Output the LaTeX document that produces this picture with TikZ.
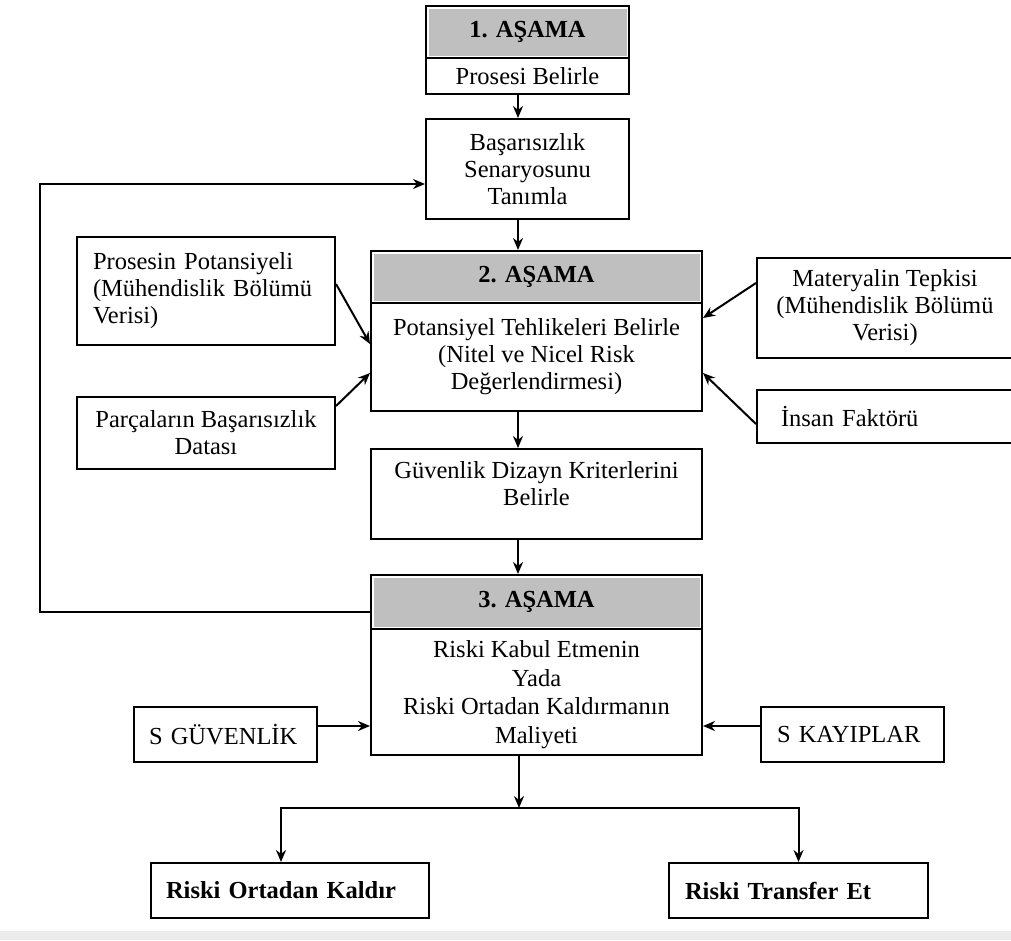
\documentclass[tikz,border=0pt]{standalone}
\usepackage{fontspec}
\setmainfont{Liberation Serif}
\usetikzlibrary{arrows.meta,positioning}
\definecolor{hdrgray}{RGB}{191,191,191}
\definecolor{rulegray}{RGB}{236,236,236}
\tikzset{box/.style={draw,line width=2pt,inner sep=0pt,anchor=north west,align=center,font=\fontsize{24.5}{27}\selectfont},
  lbox/.style={box,align=left,inner xsep=15pt},
  hdr/.style={box,font=\bfseries\fontsize{24.5}{27}\selectfont,
    path picture={\fill[hdrgray] ([shift={(2.5pt,-2.5pt)}]path picture bounding box.north west) rectangle ([shift={(-2.5pt,2.5pt)}]path picture bounding box.south east);}},
  arr/.style={line width=2pt,-{Stealth[length=12pt,width=10pt]}}}

\begin{document}
\begin{tikzpicture}[x=1pt,y=-1pt]
  \useasboundingbox (0,0) rectangle (1011,940);
  \fill[rulegray] (0,931) rectangle (1011,940);
  \coordinate (ax) at (518,0);
  % 1. asama
  \node[hdr,minimum width=203pt,minimum height=52pt] (s1h) at (425,5) {1. AŞAMA};
  \node[box,minimum width=203pt,minimum height=36pt] (s1b) at (425,57) {Prosesi Belirle};
  \node[box,minimum width=203pt,minimum height=100pt] (bsz) at (425,118) {Başarısızlık\\Senaryosunu\\Tanımla};
  % 2. asama
  \node[hdr,minimum width=331pt,minimum height=52pt] (s2h) at (370,250) {2. AŞAMA};
  \node[box,minimum width=331pt,minimum height=108pt] (s2b) at (370,302) {Potansiyel Tehlikeleri Belirle\\(Nitel ve Nicel Risk\\Değerlendirmesi)};
  \node[box,minimum width=331pt,minimum height=90pt,text depth=21pt] (gdk) at (370,448) {Güvenlik Dizayn Kriterlerini\\Belirle};
  \node[lbox,inner xsep=16pt,text width=226pt,minimum height=108pt] (ppt) at (76,236) {Prosesin Potansiyeli\\(Mühendislik Bölümü\\Verisi)};
  \node[box,minimum width=258pt,minimum height=72pt] (pbd) at (76,396) {Parçaların Başarısızlık\\Datası};
  \node[box,minimum width=256pt,minimum height=100pt] (mtp) at (756,257) {Materyalin Tepkisi\\(Mühendislik Bölümü\\Verisi)};
  \node[lbox,inner xsep=24pt,text width=208pt,minimum height=53pt] (ins) at (756,389) {İnsan Faktörü};
  % 3. asama
  \node[hdr,minimum width=331pt,minimum height=54pt] (s3h) at (370,574) {3. AŞAMA};
  \node[box,minimum width=331pt,minimum height=126pt,text depth=0pt,font=\fontsize{24.5}{28.5}\selectfont] (s3b) at (370,628) {Riski Kabul Etmenin\\Yada\\Riski Ortadan Kaldırmanın\\Maliyeti};
  \node[lbox,text width=153pt,minimum height=55pt] (sgv) at (133,706) {S GÜVENLİK};
  \node[lbox,inner xsep=16pt,text width=151pt,minimum height=55pt] (skp) at (760,706) {S KAYIPLAR};
  \node[lbox,text width=248pt,minimum height=55pt,font=\bfseries\fontsize{24.5}{27}\selectfont] (rok) at (150,862) {Riski Ortadan Kaldır};
  \node[lbox,inner xsep=16pt,text width=227pt,minimum height=55pt,font=\bfseries\fontsize{24.5}{27}\selectfont] (rtf) at (668,862) {Riski Transfer Et};
  \coordinate (fbk) at (40,400);
  \coordinate (spl) at (519,808);

  \draw[arr] (s1b.south -| ax) -- (bsz.north -| ax);
  \draw[arr] (bsz.south -| ax) -- (s2h.north -| ax);
  \draw[arr] (s2b.south -| ax) -- (gdk.north -| ax);
  \draw[arr] (gdk.south -| ax) -- (s3h.north -| ax);
  \draw[arr] ([yshift=7pt]ppt.east) -- ([yshift=13pt]s2b.west);
  \draw[arr] ([yshift=27pt]pbd.east) -- ([yshift=-16pt]s2b.west);
  \draw[arr] ([yshift=25pt]mtp.west) -- ([yshift=39pt]s2b.east);
  \draw[arr] ([yshift=-7.5pt]ins.west) -- ([yshift=-16pt]s2b.east);
  \draw[arr] ([yshift=-10pt]s3h.west) -| (fbk) |- ([yshift=-15pt]bsz.west);
  \draw[arr] ([yshift=8.5pt]sgv.east) -- ([yshift=-34pt]s3b.west);
  \draw[arr] ([yshift=8.5pt]skp.west) -- ([yshift=-34pt]s3b.east);
  \draw[arr] (s3b.south -| spl) -- (spl);
  \draw[arr] (spl) -| ([xshift=-9pt]rok.north);
  \draw[arr] (spl) -| (rtf.north);
\end{tikzpicture}
\end{document}
